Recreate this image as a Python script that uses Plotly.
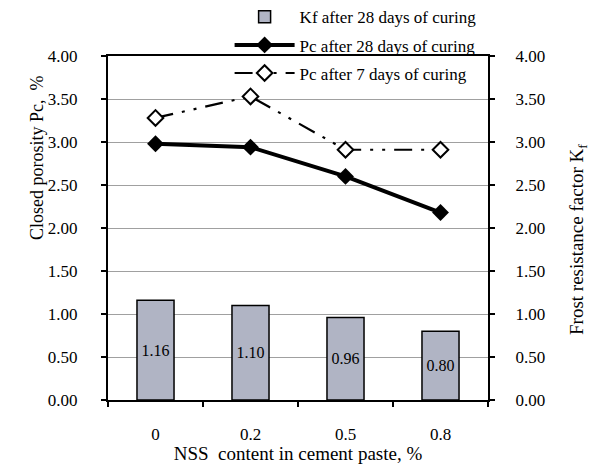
import plotly.graph_objects as go

categories = ["0", "0.2", "0.5", "0.8"]
kf_28 = [1.16, 1.10, 0.96, 0.80]
pc_28 = [2.98, 2.94, 2.60, 2.18]
pc_7 = [3.28, 3.53, 2.91, 2.91]
y_ticks = [0, 0.5, 1, 1.5, 2, 2.5, 3, 3.5, 4]

FONT = "Liberation Serif"
TICKFONT = dict(family=FONT, size=17, color="black")

fig = go.Figure()
fig.add_trace(go.Bar(
    x=categories, y=kf_28, name="Kf after 28 days of curing", yaxis="y2",
    marker=dict(color="#b0b4c4", line=dict(color="black", width=1.5)),
    texttemplate="%{y:.2f}", textposition="inside", insidetextanchor="middle",
    textfont=dict(family=FONT, size=16, color="black"),
    legendgroup="a",
))
fig.add_trace(go.Scatter(
    x=categories, y=pc_28, name="Pc after 28 days of curing", mode="lines+markers",
    line=dict(color="black", width=4),
    marker=dict(symbol="diamond", size=13, color="black"),
    legendgroup="b",
))
fig.add_trace(go.Scatter(
    x=categories, y=pc_7, name="Pc after 7 days of curing", mode="lines+markers",
    line=dict(color="black", width=2.2, dash="18px,9px,3px,9px,3px,9px"),
    marker=dict(symbol="diamond", size=12, color="white", line=dict(color="black", width=2)),
    legendgroup="c",
))

tick_text = [f"{v:.2f}" for v in y_ticks]
fig.update_layout(
    width=591, height=464,
    margin=dict(l=108, r=103, t=56, b=64, autoexpand=False),
    paper_bgcolor="white", plot_bgcolor="white",
    font=dict(family=FONT, size=17, color="black"),
    bargap=0.61,
    showlegend=True,
    legend=dict(x=0.32, y=1.165, xanchor="left", yanchor="top",
                bgcolor="rgba(0,0,0,0)", font=dict(family=FONT, size=17),
                itemwidth=60, tracegroupgap=3, traceorder="grouped"),
    xaxis=dict(
        type="category", showline=True, linecolor="black", linewidth=2, mirror=True,
        ticks="outside", tickson="boundaries", ticklen=5, tickwidth=1.5, tickcolor="black",
        showgrid=False, ticklabelstandoff=18, tickfont=TICKFONT, automargin=False,
        title=dict(text="NSS  content in cement paste, %", standoff=7,
                   font=dict(family=FONT, size=19)),
    ),
    yaxis=dict(
        range=[0, 4], tickvals=y_ticks, ticktext=tick_text,
        showline=True, linecolor="black", linewidth=2,
        ticks="outside", ticklen=5, tickwidth=1.5, tickcolor="black",
        showgrid=True, gridcolor="#a0a0a0", gridwidth=1, zeroline=False,
        ticklabelstandoff=20, tickfont=TICKFONT, automargin=False,
    ),
    yaxis2=dict(
        range=[0, 4], tickvals=y_ticks, ticktext=tick_text, overlaying="y", side="right",
        showline=True, linecolor="black", linewidth=2,
        ticks="outside", ticklen=5, tickwidth=1.5, tickcolor="black",
        showgrid=False, zeroline=False, ticklabelstandoff=17, tickfont=TICKFONT,
        automargin=False,
    ),
    annotations=[
        dict(text="Closed porosity Pc,  %", textangle=-90, xref="paper", yref="paper",
             x=-(108 - 37) / 380, y=(400 - 158) / 344, xanchor="center", yanchor="middle",
             showarrow=False, font=dict(family=FONT, size=18)),
        dict(text="Frost resistance factor K<sub>f</sub>", textangle=-90, xref="paper", yref="paper",
             x=1 + (578 - 488) / 380, y=(400 - 240) / 344, xanchor="center", yanchor="middle",
             showarrow=False, font=dict(family=FONT, size=19)),
    ],
)

fig.write_html("out.html")
